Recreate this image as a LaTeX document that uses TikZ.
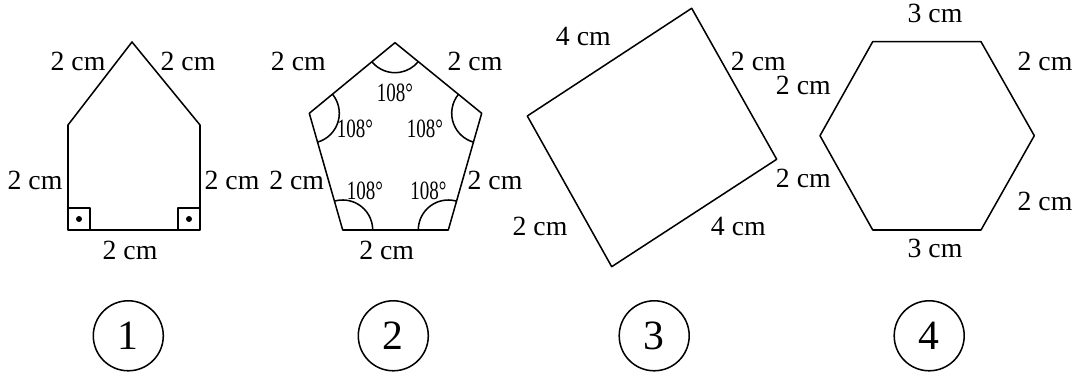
\documentclass[tikz,border=0pt]{standalone}
\usepackage{fontspec}
\setmainfont{Liberation Serif}
\usetikzlibrary{angles}
\tikzset{
  lbl/.style={font=\fontsize{10}{12}\selectfont, inner sep=0pt},
  anglbl/.style={font=\fontsize{9.5}{11}\selectfont\addfontfeature{FakeStretch=0.72}, inner sep=0pt},
  numcircle/.style={draw, circle, minimum size=25.2pt, inner sep=0pt, font=\fontsize{15}{17}\selectfont},
  angarc/.style={draw, angle radius=10.8pt}
}
\begin{document}
\begin{tikzpicture}[x=0.36pt, y=0.36pt, line width=0.55pt, line join=round]
  \useasboundingbox (0,0) rectangle (1080,377);

  % Figure 1
  \coordinate (A1) at (132,335);
  \coordinate (B1) at (200,252);
  \coordinate (C1) at (200,147);
  \coordinate (D1) at (68,147);
  \coordinate (E1) at (68,252);
  \draw (A1) -- (B1) -- (C1) -- (D1) -- (E1) -- cycle;
  \draw (68,169) -- (90,169) -- (90,147);
  \draw (200,169) -- (178,169) -- (178,147);
  \fill (79,158) circle[radius=3];
  \fill (189,158) circle[radius=3];
  \node[lbl] (l1a) at (78,316) {2 cm};
  \node[lbl] (l1b) at (188,316) {2 cm};
  \node[lbl] (l1c) at (35,197) {2 cm};
  \node[lbl] (l1d) at (232,197) {2 cm};
  \node[lbl] (l1e) at (130,127) {2 cm};

  % Figure 2
  \coordinate (A2) at (342.7,147);
  \coordinate (B2) at (448.3,147);
  \coordinate (C2) at (481.7,263.7);
  \coordinate (D2) at (395,334.3);
  \coordinate (E2) at (309.3,263.7);
  \draw (A2) -- (B2) -- (C2) -- (D2) -- (E2) -- cycle;
  \pic[angarc] {angle = B2--A2--E2};
  \pic[angarc] {angle = C2--B2--A2};
  \pic[angarc] {angle = D2--C2--B2};
  \pic[angarc] {angle = E2--D2--C2};
  \pic[angarc] {angle = A2--E2--D2};
  \node[anglbl] (g2a) at (395,283.7) {108°};
  \node[anglbl] (g2b) at (355,248) {108°};
  \node[anglbl] (g2c) at (425,248) {108°};
  \node[anglbl] (g2d) at (365,186.3) {108°};
  \node[anglbl] (g2e) at (428.3,186.3) {108°};
  \node[lbl] (l2a) at (298.3,316) {2 cm};
  \node[lbl] (l2b) at (475,316) {2 cm};
  \node[lbl] (l2c) at (296.7,197) {2 cm};
  \node[lbl] (l2d) at (495,197) {2 cm};
  \node[lbl] (l2e) at (386.7,127) {2 cm};

  % Figure 3
  \coordinate (A3) at (691.7,368.7);
  \coordinate (B3) at (776.7,217.7);
  \coordinate (C3) at (611.7,110.3);
  \coordinate (D3) at (527.3,261);
  \draw (A3) -- (B3) -- (C3) -- (D3) -- cycle;
  \node[lbl] (l3a) at (583.3,340.3) {4 cm};
  \node[lbl] (l3b) at (758.3,315.3) {2 cm};
  \node[lbl] (l3c) at (540,150.3) {2 cm};
  \node[lbl] (l3d) at (738.3,150.3) {4 cm};

  % Figure 4
  \coordinate (A4) at (872.7,335.3);
  \coordinate (B4) at (981,335.3);
  \coordinate (C4) at (1034.3,241.3);
  \coordinate (D4) at (981,147);
  \coordinate (E4) at (872.7,147);
  \coordinate (F4) at (820,241.3);
  \draw (A4) -- (B4) -- (C4) -- (D4) -- (E4) -- (F4) -- cycle;
  \node[lbl] (l4a) at (935,363.7) {3 cm};
  \node[lbl] (l4b) at (1045,316) {2 cm};
  \node[lbl] (l4c) at (803.3,292) {2 cm};
  \node[lbl] (l4d) at (803.3,198.7) {2 cm};
  \node[lbl] (l4e) at (1045,175.3) {2 cm};
  \node[lbl] (l4f) at (935,128.7) {3 cm};

  % Numbers
  \node[numcircle] (n1) at (128.3,41.2) {1};
  \node[numcircle] (n2) at (393.3,41.2) {2};
  \node[numcircle] (n3) at (654.2,41.2) {3};
  \node[numcircle] (n4) at (929.2,41.2) {4};
\end{tikzpicture}
\end{document}
